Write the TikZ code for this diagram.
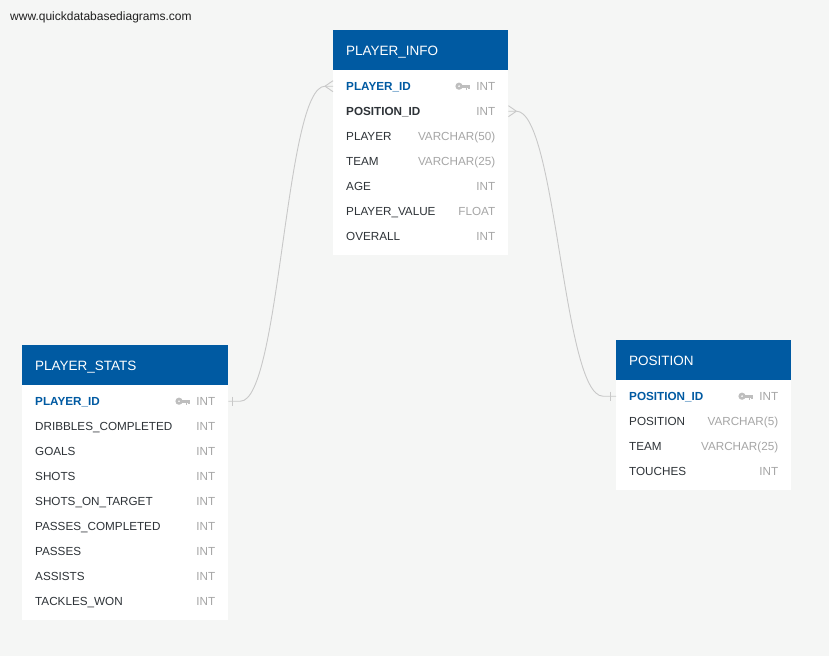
\documentclass[tikz,border=0pt]{standalone}
\usepackage{xcolor}
\usepackage{fontspec}
\setmainfont{Liberation Sans}
\usepackage{tikz}
\usetikzlibrary{matrix}

\definecolor{qdbblue}{RGB}{0,90,162}
\definecolor{qdbbg}{RGB}{245,246,245}
\definecolor{qdbtext}{RGB}{46,51,56}
\definecolor{qdbtype}{RGB}{166,166,166}
\definecolor{qdbkey}{RGB}{190,190,190}
\definecolor{qdbline}{RGB}{200,200,200}
\newcommand{\ty}[1]{\hfill{\mdseries\color{qdbtype}#1}}

\begin{document}
\begin{tikzpicture}[x=1pt, y=-1pt,
	tbl/.style={matrix of nodes, fill=white, inner sep=0pt, anchor=north west,
		nodes={rectangle, anchor=base, inner xsep=13pt, inner ysep=0pt, text width=#1,
			text height=16.7pt, text depth=8.3pt, text=qdbtext,
			font=\fontsize{11.7}{13}\selectfont}},
	hdr/.style={fill=qdbblue, text=white, text height=24.8pt, text depth=15.2pt,
		font=\fontsize{13.5}{16}\selectfont},
	pk/.style={text=qdbblue, font=\fontsize{11.7}{13}\selectfont\bfseries},
	fk/.style={font=\fontsize{11.7}{13}\selectfont\bfseries},
	lastrow/.style={text depth=14.3pt},
	link/.style={draw=qdbline, line width=0.9pt},
	pkey/.pic={
		\fill[qdbkey, even odd rule] (-3.4,0) circle (3.6) (-3.4,0) circle (1.2);
		\fill[qdbkey] (0,-1.5) rectangle (7.5,1.5);
		\fill[qdbkey] (3.4,0) rectangle (5,3.4);
		\fill[qdbkey] (6,0) rectangle (7.5,2.8);
	}]

	\fill[qdbbg] (0,0) rectangle (829,656);
	\node[anchor=base west, inner sep=0pt, text=black!88, font=\fontsize{12}{14}\selectfont] (site) at (10,20) {www.quickdatabasediagrams.com};

	\matrix (info) [tbl=149pt] at (333,30)
	{
		|[hdr]| PLAYER\_INFO \\[3.5pt]
		|[pk]| PLAYER\_ID\ty{INT} \\
		|[fk]| POSITION\_ID\ty{INT} \\
		PLAYER\ty{VARCHAR(50)} \\
		TEAM\ty{VARCHAR(25)} \\
		AGE\ty{INT} \\
		PLAYER\_VALUE\ty{FLOAT} \\
		|[lastrow]| OVERALL\ty{INT} \\
	};

	\matrix (stats) [tbl=180pt] at (22,345)
	{
		|[hdr]| PLAYER\_STATS \\[3.5pt]
		|[pk]| PLAYER\_ID\ty{INT} \\
		DRIBBLES\_COMPLETED\ty{INT} \\
		GOALS\ty{INT} \\
		SHOTS\ty{INT} \\
		SHOTS\_ON\_TARGET\ty{INT} \\
		PASSES\_COMPLETED\ty{INT} \\
		PASSES\ty{INT} \\
		ASSISTS\ty{INT} \\
		|[lastrow]| TACKLES\_WON\ty{INT} \\
	};

	\matrix (pos) [tbl=149pt] at (616,340)
	{
		|[hdr]| POSITION \\[3.5pt]
		|[pk]| POSITION\_ID\ty{INT} \\
		POSITION\ty{VARCHAR(5)} \\
		TEAM\ty{VARCHAR(25)} \\
		|[lastrow]| TOUCHES\ty{INT} \\
	};

	% key icons
	\pic at ([xshift=-46pt]info-2-1.east) {pkey};
	\pic at ([xshift=-46pt]stats-2-1.east) {pkey};
	\pic at ([xshift=-46pt]pos-2-1.east) {pkey};

	% PLAYER_STATS -> PLAYER_INFO
	\draw[link] (stats-2-1.east) -- ++(12,0) .. controls +(40,0) and +(-40,0) .. ([xshift=-8pt]info-2-1.west) -- (info-2-1.west);
	\draw[link] ([xshift=4.5pt]stats-2-1.east) ++(0,-4.5) -- ++(0,9);
	\draw[link] ([xshift=-8pt]info-2-1.west) -- ++(8,-5.5) ([xshift=-8pt]info-2-1.west) -- ++(8,5.5);

	% PLAYER_INFO -> POSITION
	\draw[link] (info-3-1.east) -- ++(8,0) .. controls +(40,0) and +(-40,0) .. ([xshift=-13pt]pos-2-1.west) -- (pos-2-1.west);
	\draw[link] ([xshift=-6pt]pos-2-1.west) ++(0,-4.5) -- ++(0,9);
	\draw[link] ([xshift=8pt]info-3-1.east) -- ++(-8,-5.5) ([xshift=8pt]info-3-1.east) -- ++(-8,5.5);

\end{tikzpicture}
\end{document}
